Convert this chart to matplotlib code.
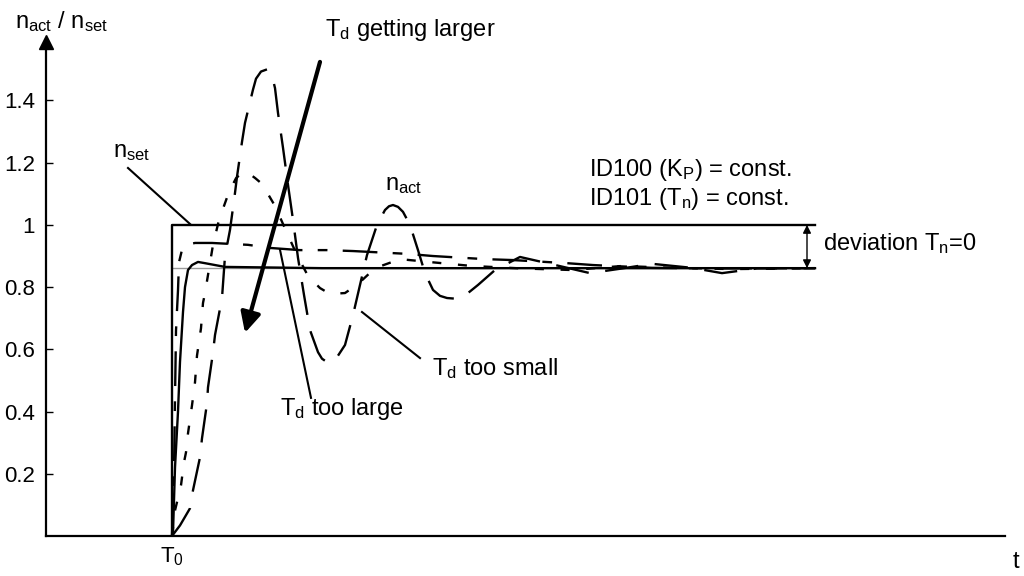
import matplotlib
matplotlib.use("Agg")
import matplotlib.pyplot as plt

plt.rcParams['font.family'] = ['Liberation Sans', 'DejaVu Sans']
plt.rcParams['mathtext.fontset'] = 'custom'
plt.rcParams['mathtext.rm'] = 'Liberation Sans'
plt.rcParams['mathtext.it'] = 'Liberation Sans'
plt.rcParams['lines.scale_dashes'] = False

# time axis: T0 = 0, arbitrary units
t_end = 6.43

# n_act, T_d correct (solid)
t_ok = [0, 0.01, 0.03, 0.06, 0.08, 0.11, 0.13, 0.16, 0.20, 0.26, 0.33, 0.43, 0.53, 1.5, t_end]
y_ok = [0, 0.01, 0.22, 0.40, 0.56, 0.72, 0.80, 0.855, 0.871, 0.881, 0.877, 0.871, 0.865, 0.861, 0.861]

# T_d too large (long-short dash)
t_large = [0, 0.02, 0.03, 0.04, 0.06, 0.07, 0.10, 0.15, 0.23, 0.40, 0.76, 0.98, 1.28, 1.55, 1.81,
           2.35, 2.61, 3.13, 3.41, 3.95, 4.21, 4.8, 5.5, t_end]
y_large = [0, 0.21, 0.44, 0.66, 0.79, 0.88, 0.92, 0.936, 0.942, 0.942, 0.936, 0.926, 0.919, 0.919, 0.916,
           0.907, 0.900, 0.890, 0.887, 0.877, 0.871, 0.862, 0.86, 0.861]

# intermediate T_d (short dash)
t_mid = [0, 0.03, 0.09, 0.12, 0.14, 0.16, 0.20, 0.23, 0.25, 0.29, 0.31, 0.33, 0.36, 0.41, 0.47, 0.57,
         0.64, 0.71, 0.77, 0.83, 0.90, 1.03, 1.15, 1.25, 1.36, 1.48, 1.58, 1.73, 1.86, 2.03, 2.28, 2.6,
         3.0, 3.5, 4.0, 4.5, 5.0, 5.6, t_end]
y_mid = [0, 0.082, 0.163, 0.237, 0.269, 0.33, 0.42, 0.494, 0.58, 0.668, 0.749, 0.781, 0.839, 0.936,
         1.016, 1.106, 1.15, 1.171, 1.165, 1.151, 1.132, 1.061, 0.974, 0.903, 0.836, 0.797, 0.778,
         0.781, 0.81, 0.861, 0.89, 0.88, 0.868, 0.86, 0.855, 0.868, 0.862, 0.858, 0.861]

# T_d too small (long dash)
t_small = [0, 0.08, 0.18, 0.21, 0.28, 0.30, 0.35, 0.36, 0.41, 0.43, 0.50, 0.53, 0.58, 0.63, 0.65,
           0.70, 0.73, 0.81, 0.84, 0.89, 0.95, 1.00, 1.03, 1.06, 1.11, 1.16, 1.21, 1.26, 1.32, 1.38,
           1.46, 1.50, 1.55, 1.59, 1.63, 1.73, 1.81, 1.88, 1.95, 2.05, 2.13, 2.17, 2.21, 2.26, 2.31,
           2.38, 2.46, 2.53, 2.61, 2.68, 2.75, 2.83, 2.91, 3.06, 3.23, 3.48, 3.78, 4.18, 4.5, 4.8,
           5.2, 5.5, 5.85, t_end]
y_small = [0, 0.034, 0.089, 0.147, 0.253, 0.314, 0.427, 0.478, 0.59, 0.646, 0.765, 0.9, 0.984, 1.103,
           1.155, 1.267, 1.328, 1.435, 1.47, 1.493, 1.50, 1.48, 1.44, 1.36, 1.248, 1.129, 1.016,
           0.894, 0.775, 0.662, 0.591, 0.57, 0.559, 0.558, 0.565, 0.614, 0.71, 0.807, 0.903, 1.0,
           1.048, 1.06, 1.064, 1.058, 1.042, 1.0, 0.919, 0.845, 0.791, 0.772, 0.765, 0.763, 0.768,
           0.807, 0.855, 0.897, 0.875, 0.845, 0.86, 0.875, 0.862, 0.845, 0.86, 0.861]

y_ticks = [0.2, 0.4, 0.6, 0.8, 1.0, 1.2, 1.4]
y_tick_labels = ["0.2", "0.4", "0.6", "0.8", "1", "1.2", "1.4"]
n_final = 0.861

fig = plt.figure(figsize=(10.24, 5.76), dpi=100)
ax = fig.add_axes([46 / 1024, 40 / 576, 959 / 1024, 494 / 576])
ax.set_xlim(-1.26, 8.33)
ax.set_ylim(0, 1.588)

for s in ['top', 'right']:
    ax.spines[s].set_visible(False)
ax.spines['left'].set_linewidth(1.6)
ax.spines['bottom'].set_linewidth(1.6)
ax.plot(-1.26, 1.588, marker='^', color='black', markersize=10, clip_on=False)

ax.set_yticks(y_ticks)
ax.set_yticklabels(y_tick_labels, fontsize=16)
ax.tick_params(axis='y', direction='in', length=5, width=1, pad=8)
ax.set_xticks([0])
ax.set_xticklabels([r'$\mathregular{T_0}$'], fontsize=16)
ax.tick_params(axis='x', length=0, pad=7)

lw = 1.7
ax.plot([0, t_end], [n_final, n_final], color='0.6', lw=1)
ax.plot([0, 0, t_end], [0, 1, 1], color='black', lw=lw)
ax.plot(t_ok, y_ok, color='black', lw=lw)
ax.plot(t_large, y_large, color='black', lw=lw, dashes=(25, 11, 7, 11))
ax.plot(t_mid, y_mid, color='black', lw=lw, dashes=(6.5, 12))
ax.plot(t_small, y_small, color='black', lw=lw, dashes=(24, 12))

# deviation arrow
ax.annotate('', xy=(6.35, 1.0), xytext=(6.35, n_final),
            arrowprops=dict(arrowstyle='<|-|>', color='black', lw=1, mutation_scale=12, shrinkA=0, shrinkB=0))
# T_d getting larger arrow
ax.annotate('', xy=(0.73, 0.653), xytext=(1.48, 1.524),
            arrowprops=dict(arrowstyle='-|>', color='black', lw=3, mutation_scale=30, shrinkA=0, shrinkB=0))
# pointer lines
ax.plot([-0.44, 0.18], [1.183, 1.003], color='black', lw=1.5, clip_on=False)
ax.plot([1.90, 2.48], [0.72, 0.572], color='black', lw=1.5)
ax.plot([1.08, 1.39], [0.92, 0.444], color='black', lw=1.5)

fs = 17
ax.text(-1.57, 1.653, r'$\mathregular{n_{act}}$ / $\mathregular{n_{set}}$', fontsize=fs, va='center', ha='left')
ax.text(1.53, 1.627, r'$\mathregular{T_d}$ getting larger', fontsize=fs, va='center', ha='left')
ax.text(-0.59, 1.219, r'$\mathregular{n_{set}}$', fontsize=fs, va='baseline', ha='left')
ax.text(2.13, 1.113, r'$\mathregular{n_{act}}$', fontsize=fs, va='baseline', ha='left')
ax.text(4.17, 1.158, r'ID100 ($\mathregular{K_P}$) = const.', fontsize=fs, va='baseline', ha='left')
ax.text(4.17, 1.064, r'ID101 ($\mathregular{T_n}$) = const.', fontsize=fs, va='baseline', ha='left')
ax.text(6.51, 0.92, r'deviation $\mathregular{T_n}$=0', fontsize=fs, va='baseline', ha='left')
ax.text(2.60, 0.518, r'$\mathregular{T_d}$ too small', fontsize=fs, va='baseline', ha='left')
ax.text(1.08, 0.389, r'$\mathregular{T_d}$ too large', fontsize=fs, va='baseline', ha='left')
ax.text(8.41, -0.082, 't', fontsize=fs, va='center', ha='left')

plt.savefig("out.png", dpi=100)
plt.close()
